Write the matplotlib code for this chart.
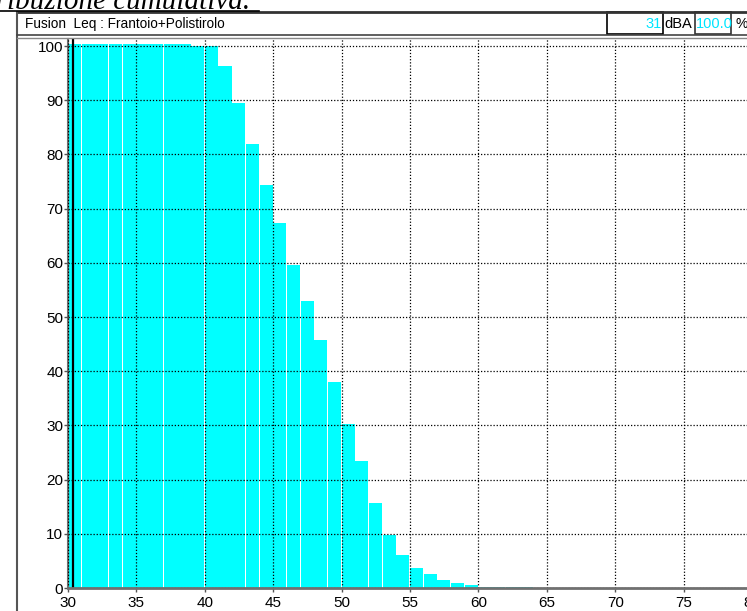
import matplotlib
matplotlib.use("Agg")
import matplotlib.pyplot as plt
from matplotlib.lines import Line2D
from matplotlib.patches import Rectangle

# ---- data ----
levels = list(range(30, 64))  # dB(A) class lower edges
cumulative = [100.4, 100.4, 100.4, 100.4, 100.4, 100.4, 100.4, 100.4, 100.4,
              100.0, 100.0,
              96.4, 89.5, 82.0, 74.3, 67.4, 59.6, 53.0, 45.8, 38.1,
              30.3, 23.5, 15.7, 9.7, 6.0, 3.7, 2.5, 1.5, 0.85, 0.6,
              0.25, 0.2, 0.15, 0.15]
xticks = [30, 35, 40, 45, 50, 55, 60, 65, 70, 75, 80]
yticks = [0, 10, 20, 30, 40, 50, 60, 70, 80, 90, 100]
cursor_db = 30.4
title = "Fusion  Leq : Frantoio+Polistirolo"
cursor_value = "31"
cursor_unit = "dBA"
cursor_pct = "100.0"
heading = "Distribuzione cumulativa."

W, H = 747, 611
fig = plt.figure(figsize=(W / 100, H / 100), dpi=100)
plt.rcParams['font.family'] = ['Liberation Sans', 'DejaVu Sans']

def fx(px):
    return px / W

def fy(py):
    return 1 - py / H

# axes: x from 68px (30 dB) to 752px (80 dB); y from 588px (0) to 39px (top)
ax_left, ax_right, ax_top, ax_bot = 68, 752, 39, 588
ax = fig.add_axes([fx(ax_left), fy(ax_bot), (ax_right - ax_left) / W,
                   (ax_bot - ax_top) / H])
ax.set_xlim(30, 80)
ax.set_ylim(0, 101.3)

ax.bar(levels, cumulative, width=0.96, align='edge', color='#00FFFF',
       edgecolor='none', zorder=1)

ax.axvline(cursor_db, color='black', lw=1.6, zorder=4)

ax.set_xticks(xticks)
ax.set_yticks(yticks)
ax.tick_params(axis='both', direction='out', length=3, width=1,
               color='#555555', labelsize=11)
ax.tick_params(axis='x', pad=3)
ax.tick_params(axis='y', pad=0.5)
ax.grid(True, color='black', linestyle=(0, (1, 1.5)), linewidth=0.9,
        zorder=3)
ax.set_axisbelow(False)
for s in ['top', 'right']:
    ax.spines[s].set_visible(False)
ax.spines['left'].set_color('#707070')
ax.spines['left'].set_linewidth(1.5)
ax.spines['bottom'].set_color('#707070')
ax.spines['bottom'].set_linewidth(2)
ax.spines['bottom'].set_zorder(5)

# ---- frame and header ----
def hline(y, x0, x1, color, lw):
    fig.add_artist(Line2D([fx(x0), fx(x1)], [fy(y), fy(y)], color=color,
                          lw=lw, transform=fig.transFigure))

def vline(x, y0, y1, color, lw):
    fig.add_artist(Line2D([fx(x), fx(x)], [fy(y0), fy(y1)], color=color,
                          lw=lw, transform=fig.transFigure))

hline(12, 17, W + 5, '#333333', 2)
vline(17, 12, H + 5, '#555555', 1.5)
hline(35, 17, W + 5, '#444444', 1.2)
hline(37.5, 17, W + 5, '#888888', 1.0)

fig.text(fx(25), fy(24), title, fontsize=9.8, va='center', ha='left',
         color='black')

# cursor boxes
fig.add_artist(Rectangle((fx(607), fy(34)), fx(663) - fx(607), fy(12) - fy(34),
                         facecolor='white', edgecolor='black', lw=1.2,
                         transform=fig.transFigure))
fig.text(fx(662), fy(23.5), cursor_value, fontsize=10.5, color='#00E5FF',
         ha='right', va='center')
fig.text(fx(664), fy(23.5), cursor_unit, fontsize=10.5, color='black',
         ha='left', va='center')
fig.add_artist(Rectangle((fx(695), fy(34)), fx(731) - fx(695), fy(12) - fy(34),
                         facecolor='white', edgecolor='#333333', lw=1.2,
                         transform=fig.transFigure))
fig.text(fx(696), fy(23.5), cursor_pct, fontsize=10.5, color='#00E5FF',
         ha='left', va='center')
fig.text(fx(735), fy(23.5), "%", fontsize=10, color='black',
         ha='left', va='center')

# cut-off heading at very top
fig.text(fx(250), fy(9), heading, fontsize=21, family='Liberation Serif',
         style='italic', ha='right', va='baseline', color='black')
hline(11, 0, 259, 'black', 1.2)

fig.savefig("out.png", dpi=100)
